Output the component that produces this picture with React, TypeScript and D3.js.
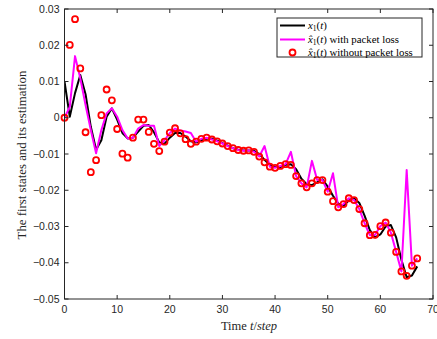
import React from "react";
import * as d3 from "d3";

const steps = d3.range(0, 68);
const xState = [0.010, 0.0003, 0.0068, 0.0118, 0.0065, -0.0025, -0.0088, -0.0062, 0.0003, 0.0026, -0.0005, -0.0042, -0.0057, -0.0055, -0.0038, -0.0022, -0.002, -0.004, -0.0068, -0.0072, -0.0055, -0.0042, -0.0042, -0.0052, -0.0065, -0.0068, -0.0062, -0.0058, -0.0058, -0.0063, -0.0070, -0.0077, -0.0084, -0.0088, -0.0090, -0.0090, -0.0091, -0.0100, -0.0116, -0.0130, -0.0136, -0.0136, -0.0130, -0.0128, -0.0142, -0.0168, -0.0183, -0.0186, -0.0178, -0.0170, -0.0190, -0.0215, -0.0237, -0.0243, -0.0228, -0.0222, -0.0235, -0.0270, -0.0310, -0.0330, -0.0322, -0.0300, -0.0296, -0.0330, -0.0392, -0.0440, -0.0435, -0.0410];
const estNoLoss = [0, 0.0201, 0.0272, 0.0136, -0.004, -0.015, -0.0117, 0.0007, 0.0078, 0.0048, -0.0031, -0.0099, -0.011, -0.0055, -0.0005, -0.0005, -0.0039, -0.0072, -0.0092, -0.0066, -0.0041, -0.0029, -0.0043, -0.0059, -0.0072, -0.0066, -0.0058, -0.0055, -0.006, -0.0065, -0.0071, -0.0078, -0.0084, -0.0089, -0.0091, -0.009, -0.0094, -0.0107, -0.0123, -0.0135, -0.0138, -0.0133, -0.0128, -0.013, -0.0161, -0.0181, -0.0192, -0.0181, -0.0172, -0.0172, -0.0204, -0.023, -0.0247, -0.0238, -0.0222, -0.0227, -0.0252, -0.0291, -0.0324, -0.0323, -0.0299, -0.0289, -0.0317, -0.037, -0.0424, -0.0436, -0.0408, -0.0388];
const estLoss = [0, 0.003, 0.017, 0.0109, 0.0035, -0.0034, -0.0098, -0.0034, 0.0012, 0.0026, 0.0003, -0.0034, -0.0057, -0.0055, -0.003, -0.002, -0.0022, -0.0022, -0.0078, -0.0062, -0.0042, -0.003, -0.0035, -0.0038, -0.0042, -0.0066, -0.0058, -0.0055, -0.006, -0.0065, -0.0071, -0.0078, -0.0084, -0.0089, -0.0091, -0.009, -0.0094, -0.0107, -0.0078, -0.0135, -0.0138, -0.0133, -0.0128, -0.0094, -0.0161, -0.0181, -0.0192, -0.0119, -0.0172, -0.0172, -0.0204, -0.0153, -0.0247, -0.0238, -0.0222, -0.0227, -0.0252, -0.0291, -0.0324, -0.0323, -0.0299, -0.0289, -0.0317, -0.037, -0.0424, -0.0144, -0.0408, -0.0388];
const xTicks = [0, 10, 20, 30, 40, 50, 60, 70];
const yTicks = [-0.05, -0.04, -0.03, -0.02, -0.01, 0, 0.01, 0.02, 0.03];

const W = 437, H = 339;
const L = 64.5, R = 433, T = 9, B = 299;

export default function App() {
  const x = d3.scaleLinear().domain([0, 70]).range([L, R]);
  const y = d3.scaleLinear().domain([-0.05, 0.03]).range([B, T]);
  const line = (vals: number[]) =>
    d3.line<number>().x((_, i) => x(steps[i])).y((d) => y(d))(vals) || "";
  const serif = "'Liberation Serif', 'DejaVu Serif', serif";
  const sans = "'Liberation Sans', Arial, sans-serif";
  const axisColor = "#262626";
  const fmt = (v: number) => (Math.abs(v) < 1e-9 ? "0" : d3.format(".2f")(v));
  const lx = 277, ly = 18;
  const rows = [25.5, 39.5, 52.5];
  const fs = 10.8;
  const sub = 7.5;
  return (
    <svg width={W} height={H} style={{ position: "absolute", left: 0, top: 0, background: "#fff" }}>
      <rect x={0} y={0} width={W} height={H} fill="#fff" />
      <defs>
        <clipPath id="plot">
          <rect x={L} y={T} width={R - L} height={B - T} />
        </clipPath>
      </defs>
      <g clipPath="url(#plot)">
        <path d={line(xState)} fill="none" stroke="#000" strokeWidth={2} strokeLinejoin="round" />
        <path d={line(estLoss)} fill="none" stroke="#ff00ff" strokeWidth={2} strokeLinejoin="round" />
      </g>
      {estNoLoss.map((v, i) => (
        <circle key={i} cx={x(steps[i])} cy={y(v)} r={3} fill="none" stroke="#ff0000" strokeWidth={1.8} />
      ))}
      <rect x={L} y={T} width={R - L} height={B - T} fill="none" stroke={axisColor} strokeWidth={1} />
      {xTicks.map((t) => (
        <g key={"x" + t}>
          <line x1={x(t)} x2={x(t)} y1={B} y2={B - 4} stroke={axisColor} />
          <line x1={x(t)} x2={x(t)} y1={T} y2={T + 4} stroke={axisColor} />
          <text x={x(t)} y={B + 14} textAnchor="middle" fontFamily={sans} fontSize={10.5} fill="#262626">{t}</text>
        </g>
      ))}
      {yTicks.map((t) => (
        <g key={"y" + t}>
          <line x1={L} x2={L + 4} y1={y(t)} y2={y(t)} stroke={axisColor} />
          <line x1={R} x2={R - 4} y1={y(t)} y2={y(t)} stroke={axisColor} />
          <text x={L - 5} y={y(t) + 3.7} textAnchor="end" fontFamily={sans} fontSize={10.5} fill="#262626">{fmt(t)}</text>
        </g>
      ))}
      <text x={249} y={330} textAnchor="middle" fontFamily={serif} fontSize={12.5} fill="#262626">
        Time <tspan fontStyle="italic">t</tspan>/<tspan fontStyle="italic">step</tspan>
      </text>
      <text transform={`translate(26,155) rotate(-90)`} textAnchor="middle" fontFamily={serif} fontSize={12.8} fill="#262626">
        The first states and its estimation
      </text>
      <rect x={lx} y={ly} width={145} height={39} fill="#fff" stroke={axisColor} strokeWidth={1} />
      <line x1={280} x2={305} y1={rows[0]} y2={rows[0]} stroke="#000" strokeWidth={2} />
      <line x1={280} x2={305} y1={rows[1]} y2={rows[1]} stroke="#ff00ff" strokeWidth={2} />
      <circle cx={292.5} cy={rows[2]} r={3} fill="none" stroke="#ff0000" strokeWidth={1.8} />
      <text x={308} y={rows[0] + 3.5} fontFamily={serif} fontSize={fs} fill="#000">
        <tspan fontStyle="italic">x</tspan><tspan fontSize={sub} dy={2}>1</tspan><tspan dy={-2}>(</tspan><tspan fontStyle="italic">t</tspan>)
      </text>
      <text x={308} y={rows[1] + 3.5} fontFamily={serif} fontSize={fs} fill="#000">
        <tspan fontStyle="italic">x̂</tspan><tspan fontSize={sub} dy={2}>1</tspan><tspan dy={-2}>(</tspan><tspan fontStyle="italic">t</tspan>) with packet loss
      </text>
      <text x={308} y={rows[2] + 3.5} fontFamily={serif} fontSize={fs} fill="#000">
        <tspan fontStyle="italic">x̂</tspan><tspan fontSize={sub} dy={2}>1</tspan><tspan dy={-2}>(</tspan><tspan fontStyle="italic">t</tspan>) without packet loss
      </text>
    </svg>
  );
}
